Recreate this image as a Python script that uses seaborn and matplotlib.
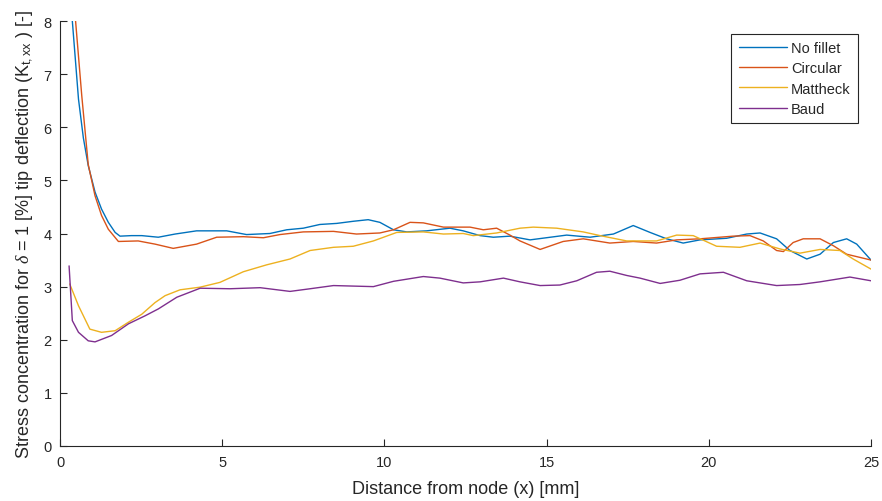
import matplotlib
matplotlib.use("Agg")
import matplotlib.pyplot as plt
import numpy as np
import pandas as pd
import seaborn as sns

# Stress concentration factor along the distance from the node, per fillet type
x_no_fillet = [0.33, 0.38, 0.57, 0.72, 0.87, 1.08, 1.28, 1.49, 1.70, 1.85, 2.2, 2.52, 3.03,
               3.55, 4.21, 5.14, 5.75, 6.47, 6.99, 7.5, 8.01, 8.53, 9.04, 9.5, 9.86, 10.28,
               10.69, 11.3, 12.02, 12.43, 12.95, 13.36, 13.87, 14.49, 15.62, 16.34, 17.06,
               17.67, 18.19, 18.70, 19.21, 19.73, 20.55, 21.17, 21.58, 22.09, 22.5, 23.02,
               23.43, 23.84, 24.25, 24.56, 25.0]
y_no_fillet = [8.4, 8.0, 6.53, 5.8, 5.28, 4.78, 4.46, 4.21, 4.02, 3.95, 3.96, 3.96, 3.93,
               3.99, 4.05, 4.05, 3.98, 4.00, 4.07, 4.10, 4.17, 4.19, 4.23, 4.26, 4.21, 4.07,
               4.03, 4.05, 4.10, 4.05, 3.96, 3.93, 3.95, 3.88, 3.97, 3.93, 3.99,
               4.15, 4.02, 3.90, 3.82, 3.88, 3.91, 3.99, 4.01, 3.90, 3.68, 3.52,
               3.61, 3.83, 3.90, 3.80, 3.50]

x_circular = [0.43, 0.48, 0.67, 0.87, 1.08, 1.28, 1.49, 1.8, 2.41, 2.93, 3.49, 4.21, 4.83,
              5.65, 6.27, 6.78, 7.5, 8.43, 9.14, 9.86, 10.28, 10.79, 11.2, 11.82, 12.64,
              13.05, 13.46, 13.87, 14.18, 14.8, 15.51, 16.13, 16.95, 17.67, 18.39, 19.01,
              19.73, 20.75, 21.27, 21.68, 22.09, 22.3, 22.6, 22.91, 23.43, 23.84, 24.25, 25.0]
y_circular = [8.4, 8.0, 6.6, 5.3, 4.71, 4.34, 4.08, 3.85, 3.86, 3.80, 3.72, 3.80, 3.93,
              3.94, 3.92, 3.98, 4.03, 4.04, 3.99, 4.01, 4.07, 4.21, 4.20, 4.12, 4.12,
              4.07, 4.10, 3.97, 3.86, 3.70, 3.85, 3.90, 3.82, 3.85, 3.82, 3.88,
              3.90, 3.95, 3.96, 3.86, 3.68, 3.66, 3.83, 3.90, 3.90, 3.77, 3.61, 3.50]

x_mattheck = [0.3, 0.57, 0.92, 1.28, 1.7, 2.11, 2.52, 2.93, 3.24, 3.70, 4.32, 4.93, 5.65,
              6.37, 7.09, 7.71, 8.43, 9.04, 9.66, 10.38, 11.2, 11.82, 12.43, 12.74, 13.46,
              14.18, 14.59, 15.31, 16.13, 16.65, 17.47, 18.39, 19.01, 19.52, 20.24, 20.96,
              21.58, 22.19, 22.81, 23.43, 24.04, 24.45, 25.0]
y_mattheck = [3.05, 2.64, 2.20, 2.14, 2.17, 2.33, 2.48, 2.70, 2.83, 2.94, 2.99, 3.08, 3.28,
              3.41, 3.52, 3.68, 3.74, 3.76, 3.86, 4.02, 4.03, 3.99, 4.00, 3.96, 4.01,
              4.10, 4.12, 4.10, 4.03, 3.96, 3.86, 3.86, 3.97, 3.96, 3.76, 3.74,
              3.82, 3.71, 3.63, 3.70, 3.68, 3.52, 3.33]

x_baud = [0.28, 0.38, 0.57, 0.87, 1.08, 1.59, 2.11, 2.62, 3.03, 3.6, 4.32, 5.24, 6.17, 7.09,
          7.71, 8.43, 9.66, 10.28, 11.2, 11.71, 12.43, 12.95, 13.67, 14.18, 14.8, 15.41,
          15.93, 16.54, 16.95, 17.47, 17.88, 18.5, 19.11, 19.73, 20.45, 21.17, 22.09,
          22.81, 23.43, 24.35, 25.0]
y_baud = [3.39, 2.36, 2.14, 1.98, 1.96, 2.08, 2.30, 2.45, 2.58, 2.80, 2.97, 2.96, 2.98, 2.91,
          2.96, 3.02, 3.00, 3.10, 3.19, 3.16, 3.07, 3.09, 3.16, 3.09, 3.02, 3.03,
          3.11, 3.27, 3.29, 3.21, 3.16, 3.06, 3.12, 3.24, 3.27, 3.11, 3.02,
          3.04, 3.09, 3.18, 3.11]

series_names = ["No fillet", "Circular", "Mattheck", "Baud"]
series_colors = ["#0072BD", "#D95319", "#EDB120", "#7E2F8E"]
x_ticks = [0, 5, 10, 15, 20, 25]
y_ticks = [0, 1, 2, 3, 4, 5, 6, 7, 8]

frames = []
for name, xs, ys in zip(series_names,
                        [x_no_fillet, x_circular, x_mattheck, x_baud],
                        [y_no_fillet, y_circular, y_mattheck, y_baud]):
    frames.append(pd.DataFrame({"x": xs, "K": ys, "Fillet": name}))
df = pd.concat(frames, ignore_index=True)

sns.set_style("ticks")
plt.rcParams["font.family"] = ["Liberation Sans", "DejaVu Sans"]
plt.rcParams["mathtext.fontset"] = "custom"
plt.rcParams["mathtext.rm"] = "Liberation Sans"
plt.rcParams["mathtext.it"] = "Liberation Serif:italic"

text_color = "#262626"
fig = plt.figure(figsize=(8.82, 5.02), dpi=100)
ax = fig.add_axes([60 / 882, 55 / 502, 811 / 882, 425 / 502])

sns.lineplot(data=df, x="x", y="K", hue="Fillet", palette=dict(zip(series_names, series_colors)),
             hue_order=series_names, estimator=None, sort=False, linewidth=1.0, ax=ax)

ax.set_xlim(0, 25)
ax.set_ylim(0, 8)
ax.set_xticks(x_ticks)
ax.set_yticks(y_ticks)
ax.tick_params(direction="in", length=5, width=0.8, colors=text_color, labelsize=10.5,
               labelcolor=text_color)
ax.tick_params(axis="x", pad=6.5)
ax.tick_params(axis="y", pad=6)
for side in ["top", "right"]:
    ax.spines[side].set_visible(False)
for side in ["left", "bottom"]:
    ax.spines[side].set_color(text_color)
    ax.spines[side].set_linewidth(0.8)

ax.set_xlabel("Distance from node (x) [mm]", fontsize=13, color=text_color, labelpad=8)
ax.set_ylabel(r"Stress concentration for $\delta$ = 1 [%] tip deflection (K$_\mathregular{t,xx}$ ) [-]",
              fontsize=13, color=text_color, labelpad=6)

handles, labels = ax.get_legend_handles_labels()
leg = ax.legend(handles, labels, loc="upper right", bbox_to_anchor=(858 / 882, 1 - 35 / 502),
                bbox_transform=fig.transFigure, borderaxespad=0, fontsize=10.5,
                frameon=True, fancybox=False, edgecolor=text_color, framealpha=1,
                handlelength=3.3, handletextpad=0.3, labelspacing=0.42, borderpad=0.5)
leg.get_frame().set_linewidth(0.8)
for line in leg.get_lines():
    line.set_linewidth(1.0)

fig.savefig("out.png", dpi=100)
